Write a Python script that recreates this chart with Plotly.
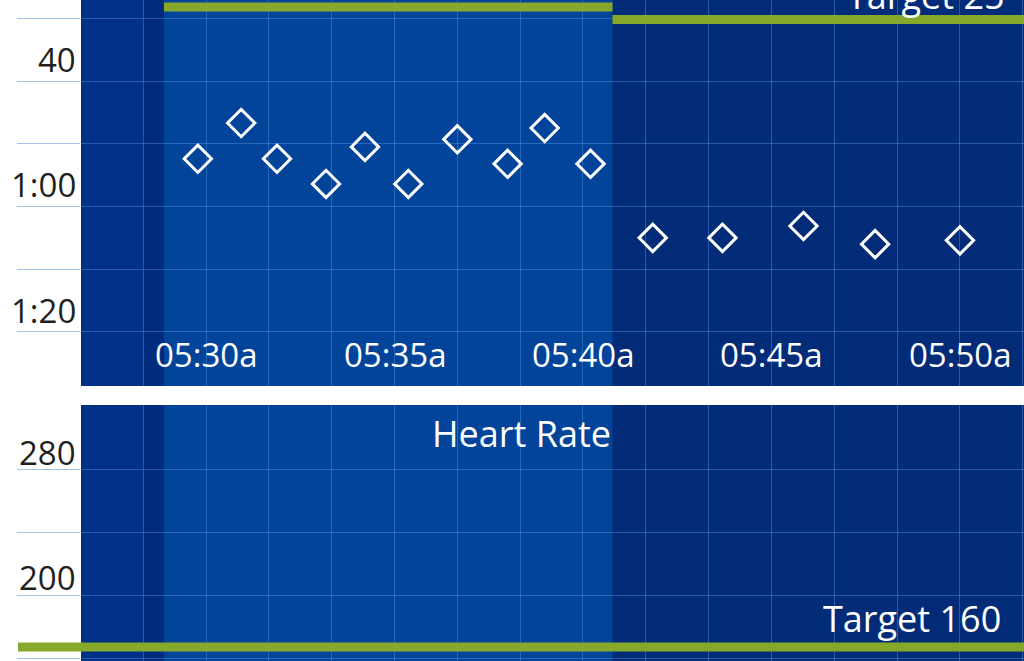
import plotly.graph_objects as go

DAY = "2024-01-01 "

# ---- data ----
pace_times = ["05:29:47", "05:30:56", "05:31:53", "05:33:11", "05:34:13",
              "05:35:22", "05:36:40", "05:38:00", "05:38:59", "05:40:12",
              "05:41:51", "05:43:42", "05:45:51", "05:47:45", "05:50:00"]
pace_values = [52.4, 46.7, 52.4, 56.4, 50.5, 56.4, 49.3, 53.2, 47.5, 53.2,
               65.0, 65.0, 63.1, 66.0, 65.4]

x_tick_times = ["05:30:00", "05:35:00", "05:40:00", "05:45:00", "05:50:00"]
x_tick_labels = ["05:30a", "05:35a", "05:40a", "05:45a", "05:50a"]

pace_tick_vals = [40, 60, 80]
pace_tick_labels = ["40", "1:00", "1:20"]
pace_grid_vals = [30, 40, 50, 60, 70, 80]

hr_tick_vals = [200, 280]
hr_tick_labels = ["200", "280"]
hr_grid_vals = [160, 200, 240, 280]

x_start, x_end = "05:26:41", "05:51:42"
pre_end = "05:28:20"
warm_end = "05:28:53"
interval_end = "05:40:47"

interval_target_value = 28.2
interval_target_label = "Target 28"
rest_target_value = 30.2
rest_target_label = "Target 25"
hr_target_value = 167
hr_target_label = "Target 160"

pace_range = [88.61, 27.09]
hr_range = [158.1, 321.4]

# ---- style ----
FONT = "Open Sans"
GRID = "rgba(70,140,220,0.5)"
GREEN = "#87a92b"
BG_DARK = "#022b78"
BG_LEFT = "#013087"
BG_MID = "#012c7e"
BG_INTERVAL = "#03449b"


def t(s):
    return DAY + s


fig = go.Figure()
fig.add_trace(go.Scatter(
    x=[t(s) for s in pace_times], y=pace_values, mode="markers",
    marker=dict(symbol="diamond-open", size=21, color="white",
                line=dict(width=3, color="white")),
    xaxis="x", yaxis="y", showlegend=False, hoverinfo="skip"))
# invisible trace to create the heart rate subplot
fig.add_trace(go.Scatter(x=[t(x_start)], y=[hr_range[0] - 100], mode="markers",
                         marker=dict(opacity=0), xaxis="x2", yaxis="y2",
                         showlegend=False, hoverinfo="skip"))

shapes = []
for yr in ["y domain", "y2 domain"]:
    xr = "x" if yr == "y domain" else "x2"
    for a, b, c in [(x_start, pre_end, BG_LEFT), (pre_end, warm_end, BG_MID),
                    (warm_end, interval_end, BG_INTERVAL)]:
        shapes.append(dict(type="rect", xref=xr, yref=yr, x0=t(a), x1=t(b),
                           y0=0, y1=1, fillcolor=c, line=dict(width=0),
                           layer="below"))

shapes.append(dict(type="line", xref="x", yref="y", x0=t(warm_end), x1=t(interval_end),
                   y0=interval_target_value, y1=interval_target_value,
                   line=dict(color=GREEN, width=9)))
shapes.append(dict(type="line", xref="x", yref="y", x0=t(interval_end), x1=t(x_end),
                   y0=rest_target_value, y1=rest_target_value,
                   line=dict(color=GREEN, width=9)))
shapes.append(dict(type="line", xref="paper", yref="y2", x0=-0.0668, x1=1,
                   y0=hr_target_value, y1=hr_target_value,
                   line=dict(color=GREEN, width=9)))

ann = []
for tt, lab in zip(x_tick_times, x_tick_labels):
    ann.append(dict(x=t(tt), y=0, xref="x", yref="y domain", text=lab,
                    showarrow=False, xanchor="center", yanchor="bottom", yshift=7,
                    font=dict(family=FONT, size=33, color="white")))
for v, lab in zip(pace_tick_vals, pace_tick_labels):
    ann.append(dict(x=0, y=v, xref="paper", yref="y", text=lab, showarrow=False,
                    xanchor="right", yanchor="bottom", xshift=-3, yshift=-3,
                    font=dict(family=FONT, size=33, color="#231f20")))
for v, lab in zip(hr_tick_vals, hr_tick_labels):
    ann.append(dict(x=0, y=v, xref="paper", yref="y2", text=lab, showarrow=False,
                    xanchor="right", yanchor="bottom", xshift=-3, yshift=-7,
                    font=dict(family=FONT, size=33, color="#231f20")))

ann.append(dict(x=0.4666, y=1, xref="paper", yref="y2 domain", text="Heart Rate",
                showarrow=False, xanchor="center", yanchor="top", yshift=-2,
                font=dict(family=FONT, size=36, color="white")))
ann.append(dict(x=0.9777, y=hr_target_value, xref="paper", yref="y2",
                text=hr_target_label, showarrow=False, xanchor="right",
                yanchor="bottom", yshift=2,
                font=dict(family=FONT, size=36, color="white")))
ann.append(dict(x=1, y=rest_target_value, xref="paper", yref="y",
                text=rest_target_label, showarrow=False, xanchor="right",
                yanchor="bottom", xshift=-17, yshift=-2,
                font=dict(family=FONT, size=36, color="white")))
ann.append(dict(x=t(interval_end), y=interval_target_value, xref="x", yref="y",
                text=interval_target_label, showarrow=False, xanchor="right",
                yanchor="bottom", xshift=-23, yshift=3,
                font=dict(family=FONT, size=36, color="white")))

xcommon = dict(type="date", range=[t(x_start), t(x_end)], showgrid=True,
               gridcolor=GRID, gridwidth=1, dtick=100000, tick0=t(pre_end),
               showticklabels=False, ticks="", zeroline=False, showline=False,
               fixedrange=True)

fig.update_layout(
    width=1024, height=661,
    margin=dict(l=81, r=0, t=0, b=0),
    paper_bgcolor="white", plot_bgcolor=BG_DARK,
    showlegend=False,
    xaxis=dict(domain=[0, 1], anchor="y", **xcommon),
    xaxis2=dict(domain=[0, 1], anchor="y2", matches="x", **xcommon),
    yaxis=dict(domain=[275 / 661, 1], anchor="x", range=pace_range,
               tickmode="array", tickvals=pace_grid_vals, showticklabels=False,
               ticks="outside", ticklen=63, tickwidth=1, tickcolor=GRID,
               showgrid=True, gridcolor=GRID, gridwidth=1, zeroline=False,
               showline=False, fixedrange=True),
    yaxis2=dict(domain=[0, 256 / 661], anchor="x2", range=hr_range,
                tickmode="array", tickvals=hr_grid_vals, showticklabels=False,
                ticks="outside", ticklen=63, tickwidth=1, tickcolor=GRID,
                showgrid=True, gridcolor=GRID, gridwidth=1, zeroline=False,
                showline=False, fixedrange=True),
    shapes=shapes, annotations=ann,
)

fig.write_html("out.html", config={"displayModeBar": False})
